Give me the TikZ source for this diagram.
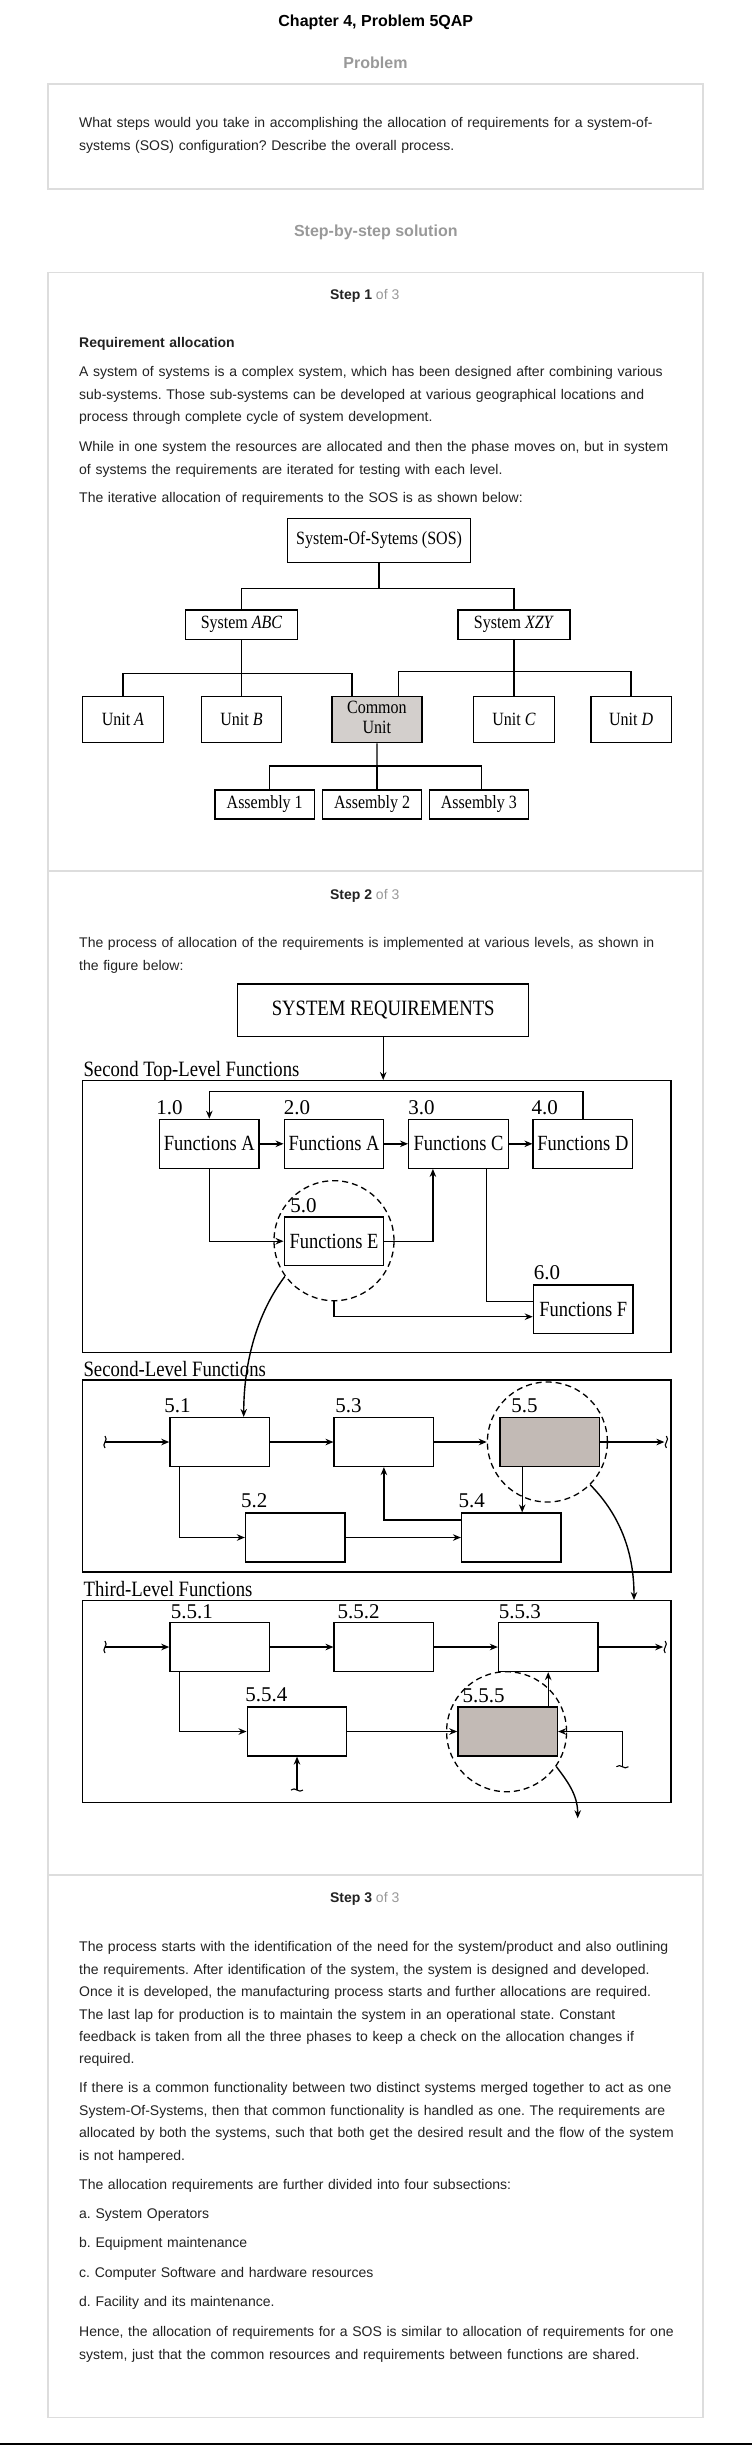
\documentclass[tikz,border=0pt]{standalone}
\usepackage{fontspec}
\setmainfont{Liberation Sans}
\newfontfamily\figfont{Liberation Serif}
\usepackage{graphicx}
\usetikzlibrary{arrows.meta,positioning}
\frenchspacing

\definecolor{headgray}{RGB}{153,153,153}
\definecolor{panelgray}{RGB}{221,221,221}
\definecolor{bodytext}{RGB}{34,34,34}
\definecolor{commonfill}{RGB}{211,207,204}
\definecolor{funcfill}{RGB}{194,186,181}

% figure lettering is a little taller than wide
\newcommand{\vs}[1]{\scalebox{1}[1.17]{#1}}

\tikzset{
  body/.style={font=\fontsize{14}{22.4}\selectfont, text=bodytext, anchor=base west,
    inner sep=0pt, align=left, text width=640pt},
  heading/.style={font=\fontsize{16}{19}\selectfont\bfseries, anchor=base, inner sep=0pt},
  stepname/.style={font=\fontsize{14}{17}\selectfont, text=bodytext, anchor=base, inner sep=0pt},
  panel/.style={draw=panelgray, line width=1.2pt},
  treebox/.style={draw, line width=1.3pt, inner sep=0pt, font=\figfont\fontsize{16}{16.4}\selectfont},
  funcbox/.style={draw, line width=1.4pt, inner sep=0pt, minimum width=99.5pt,
    minimum height=48.8pt, font=\figfont\fontsize{18.5}{20}\selectfont},
  levelframe/.style={draw, line width=1.4pt, inner sep=0pt, minimum width=588.5pt},
  levelname/.style={font=\figfont\fontsize{18.7}{20}\selectfont, anchor=base west, inner sep=0pt},
  num/.style={font=\figfont\fontsize{21}{22}\selectfont, anchor=base west, inner sep=0pt},
  ring/.style={draw, circle, dash pattern=on 6pt off 4pt, line width=1.3pt,
    minimum size=120pt, inner sep=0pt},
  link/.style={line width=1.3pt},
  flow/.style={line width=1.4pt, -{Stealth[length=8pt,width=6.5pt]}},
  vwave/.pic={\draw[line width=1.1pt] (0,-6) .. controls (4,-2) and (-4,2) .. (0,6);},
  hwave/.pic={\draw[line width=1.1pt] (-6,0) .. controls (-2,-4) and (2,4) .. (6,0);},
}

\begin{document}
\begin{tikzpicture}[x=1pt, y=-1pt]
\useasboundingbox (0,0) rectangle (752,2445);
\fill[white] (0,0) rectangle (752,2445);

% page headings and frames
\node[heading] (title) at (375.8,26.7) {Chapter 4, Problem 5QAP};
\node[heading, text=headgray] (probhead) at (375.5,68.7) {Problem};
\draw[panel] (48,84) rectangle (703,189);
\node[body] (probtext) at (79,127.8) {What steps would you take in accomplishing the allocation of requirements for a system-of-\\
systems (SOS) configuration? Describe the overall process.};
\node[heading, text=headgray] (solhead) at (375.8,236.4) {Step-by-step solution};
\draw[panel] (48,272.5) rectangle (703,2417.3);
\draw[panel] (48,871) -- (703,871);
\draw[panel] (48,1875) -- (703,1875);
\draw[line width=2pt] (0,2443.5) -- (752,2443.5);

% step 1
\node[stepname] (step1) at (364.7,299.3) {\textbf{Step 1} \textcolor{headgray}{of 3}};
\node[body] (reqhead) at (79,347.5) {\textbf{Requirement allocation}};
\node[body] (s1p1) at (79,376.8) {A system of systems is a complex system, which has been designed after combining various\\
sub-systems. Those sub-systems can be developed at various geographical locations and\\
process through complete cycle of system development.};
\node[body] (s1p2) at (79,451.8) {While in one system the resources are allocated and then the phase moves on, but in system\\
of systems the requirements are iterated for testing with each level.};
\node[body] (s1p3) at (79,502.8) {The iterative allocation of requirements to the SOS is as shown below:};

% SOS tree
\node[treebox, minimum width=183pt, minimum height=44pt] (sos) at (379.1,540.3) {\vs{System-Of-Sytems (SOS)}};
\node[treebox, minimum width=112pt, minimum height=29.3pt] (abc) at (241.5,624.7) {\vs{System \textit{ABC}}};
\node[treebox, minimum width=112pt, minimum height=29.3pt] (xzy) at (514,624.7) {\vs{System \textit{XZY}}};
\node[treebox, minimum width=80.5pt, minimum height=46pt] (ua) at (122.9,719.7) {\vs{Unit \textit{A}}};
\node[treebox, minimum width=80.5pt, minimum height=46pt] (ub) at (241.5,719.7) {\vs{Unit \textit{B}}};
\node[treebox, minimum width=90pt, minimum height=46pt, fill=commonfill] (cu) at (376.9,719.7)
  {\vs{\begin{tabular}{@{}c@{}}Common\\Unit\end{tabular}}};
\node[treebox, minimum width=80.5pt, minimum height=46pt] (uc) at (514,719.7) {\vs{Unit \textit{C}}};
\node[treebox, minimum width=80.5pt, minimum height=46pt] (ud) at (631.1,719.7) {\vs{Unit \textit{D}}};
\node[treebox, minimum width=99.5pt, minimum height=29pt] (a1) at (264.7,804.5) {\vs{Assembly 1}};
\node[treebox, minimum width=99.5pt, minimum height=29pt] (a2) at (372,804.5) {\vs{Assembly 2}};
\node[treebox, minimum width=99.5pt, minimum height=29pt] (a3) at (478.9,804.5) {\vs{Assembly 3}};

\coordinate (sosj) at (379.1,588.3);
\coordinate (abcj) at (241.5,673.3);
\coordinate (xzyj) at (514,671.7);
\coordinate (cuj) at (377,766);
\draw[link] (sos.south) -- (sosj);
\draw[link] (abc.north) |- (sosj) -| (xzy.north);
\draw[link] (abc.south) -- (abcj);
\draw[link] (ua.north) |- (abcj) -| ([xshift=-25pt]cu.north);
\draw[link] (abcj) -- (ub.north);
\draw[link] (xzy.south) -- (xzyj);
\draw[link] ([xshift=21.7pt]cu.north) |- (xzyj) -| (ud.north);
\draw[link] (xzyj) -- (uc.north);
\draw[link] (cu.south) -- (cuj);
\draw[link] ([xshift=4.7pt]a1.north) |- (cuj) -| ([xshift=2.6pt]a3.north);
\draw[link] (cuj) -- (cuj |- a2.north);

% step 2
\node[stepname] (step2) at (364.7,899.3) {\textbf{Step 2} \textcolor{headgray}{of 3}};
\node[body] (s2p1) at (79,947.8) {The process of allocation of the requirements is implemented at various levels, as shown in\\
the figure below:};

\node[treebox, minimum width=291pt, minimum height=52.7pt, font=\figfont\fontsize{18.7}{20}\selectfont]
  (sysreq) at (383.2,1010.3) {\vs{SYSTEM REQUIREMENTS}};

% top-level functions
\node[levelname] (lvltop) at (83.4,1076.5) {\vs{Second Top-Level Functions}};
\node[levelframe, minimum height=271.6pt] (topframe) at (376.75,1216.5) {};
\draw[flow] (sysreq.south) -- (sysreq.south |- topframe.north);

\node[funcbox] (fa) at (209.3,1143.8) {\vs{Functions A}};
\node[funcbox] (fa2) at (334,1143.8) {\vs{Functions A}};
\node[funcbox] (fc) at (458.5,1143.8) {\vs{Functions C}};
\node[funcbox] (fd) at (582.9,1143.8) {\vs{Functions D}};
\node[funcbox] (fe) at (334,1241.2) {\vs{Functions E}};
\node[funcbox, minimum height=48.3pt] (ff) at (583.2,1309.2) {\vs{Functions F}};
\node[num] (n10) at ([shift={(-2.7,-4)}]fa.north west) {1.0};
\node[num] (n20) at ([shift={(0,-4)}]fa2.north west) {2.0};
\node[num] (n30) at ([shift={(0,-4)}]fc.north west) {3.0};
\node[num] (n40) at ([shift={(-1,-4)}]fd.north west) {4.0};
\node[num] (n50) at ([shift={(6.6,-3.7)}]fe.north west) {5.0};
\node[num] (n60) at ([shift={(0.9,-5.3)}]ff.north west) {6.0};
\node[ring] (ring5) at (334,1240.7) {};

\draw[flow] (fa) -- (fa2);
\draw[flow] (fa2) -- (fc);
\draw[flow] (fc) -- (fd);
\draw[flow] (fd.north) -- ++(0,-27) -| (fa.north);
\draw[flow] (fa.south) |- (fe.west);
\draw[flow] (fe.east) -| ([xshift=-25.6pt]fc.south);
\draw[link] ([xshift=28.2pt]fc.south) |- ([yshift=8pt]ff.west);
\draw[flow] (ring5.south) |- ([yshift=-7.5pt]ff.west);

% second-level functions
\node[levelname] (lvlsec) at (83.4,1376) {\vs{Second-Level Functions}};
\node[levelframe, minimum height=192pt] (midframe) at (376.75,1476) {};
\node[funcbox] (s1) at (219.7,1442) {};
\node[funcbox] (s3) at (383.9,1442) {};
\node[funcbox, fill=funcfill] (s5) at (549.7,1442) {};
\node[funcbox] (s2) at (295.3,1537.5) {};
\node[funcbox] (s4) at (511.4,1537.5) {};
\node[num] (n51) at ([shift={(-5.1,-4.3)}]s1.north west) {5.1};
\node[num] (n53) at ([shift={(1.6,-4.3)}]s3.north west) {5.3};
\node[num] (n55) at ([shift={(11.8,-4.3)}]s5.north west) {5.5};
\node[num] (n52) at ([shift={(-4,-4.6)}]s2.north west) {5.2};
\node[num] (n54) at ([shift={(-2.5,-4.6)}]s4.north west) {5.4};
\node[ring] (ring55) at (547.4,1442) {};

\draw[flow] (ring5.216) .. controls (258,1312) and (243.8,1360) .. ([xshift=24pt]s1.north);

\coordinate (in2) at (105,1442);
\coordinate (out2) at (664.4,1442);
\pic at (in2) {vwave};
\pic at ([xshift=2pt]out2) {vwave};
\draw[flow] (in2) -- (s1);
\draw[flow] (s1) -- (s3);
\draw[flow] (s3) -- (ring55);
\draw[flow] (s5) -- (out2);
\draw[flow] ([xshift=-40pt]s1.south) |- (s2.west);
\draw[flow] (s2) -- (s4);
\draw[flow] ([yshift=17.5pt]s4.west) -| (s3.south);
\coordinate (s5a) at ([xshift=-27.5pt]s5.south);
\draw[flow] (s5a) -- (s5a |- s4.north);

% third-level functions
\node[levelname] (lvlthird) at (83.4,1596) {\vs{Third-Level Functions}};
\node[levelframe, minimum height=201.6pt] (botframe) at (376.75,1701.5) {};
\draw[flow] (ring55.-45) .. controls (615,1510) and (634,1545) .. ([xshift=257.25pt]botframe.north);

\node[funcbox] (t1) at (219.7,1647) {};
\node[funcbox] (t2) at (383.9,1647) {};
\node[funcbox] (t3) at (548.3,1647) {};
\node[funcbox] (t4) at (297,1731.5) {};
\node[funcbox, fill=funcfill] (t5) at (507.7,1731.5) {};
\node[num] (n551) at ([shift={(1.4,-3.2)}]t1.north west) {5.5.1};
\node[num] (n552) at ([shift={(4,-3.2)}]t2.north west) {5.5.2};
\node[num] (n553) at ([shift={(0.9,-3.2)}]t3.north west) {5.5.3};
\node[num] (n554) at ([shift={(-1.3,-4.5)}]t4.north west) {5.5.4};
\node[num] (n555) at ([shift={(5.2,-3.5)}]t5.north west) {5.5.5};
\node[ring] (ring555) at (506.6,1731.7) {};

\coordinate (in3) at (105,1647);
\coordinate (out3) at (663.2,1647);
\coordinate (w5) at (297,1790);
\coordinate (w6) at (622.4,1766.7);
\coordinate (c3end) at (577.7,1818.3);
\pic at (in3) {vwave};
\pic at ([xshift=2pt]out3) {vwave};
\pic at (w5) {hwave};
\pic at (w6) {hwave};
\draw[flow] (in3) -- (t1);
\draw[flow] (t1) -- (t2);
\draw[flow] (t2) -- (t3);
\draw[flow] (t3) -- (out3);
\draw[flow] ([xshift=-40pt]t1.south) |- (t4.west);
\draw[flow] (t4) -- (t5);
\coordinate (t5a) at ([xshift=40.5pt]t5.north);
\draw[flow] (t5a) -- (t5a |- t3.south);
\draw[flow] (w6) |- (t5.east);
\draw[flow] (w5) -- (t4.south);
\draw[flow] (ring555.-35) .. controls (568,1782) and (577.7,1795) .. (c3end);

% step 3
\node[stepname] (step3) at (364.7,1902.3) {\textbf{Step 3} \textcolor{headgray}{of 3}};
\node[body] (s3p1) at (79,1951.8) {The process starts with the identification of the need for the system/product and also outlining\\
the requirements. After identification of the system, the system is designed and developed.\\
Once it is developed, the manufacturing process starts and further allocations are required.\\
The last lap for production is to maintain the system in an operational state. Constant\\
feedback is taken from all the three phases to keep a check on the allocation changes if\\
required.};
\node[body] (s3p2) at (79,2092.8) {If there is a common functionality between two distinct systems merged together to act as one\\
System-Of-Systems, then that common functionality is handled as one. The requirements are\\
allocated by both the systems, such that both get the desired result and the flow of the system\\
is not hampered.};
\node[body] (s3p3) at (79,2189.8) {The allocation requirements are further divided into four subsections:};
\node[body] (itema) at (79,2218.8) {a. System Operators};
\node[body] (itemb) at (79,2247.8) {b. Equipment maintenance};
\node[body] (itemc) at (79,2277.8) {c. Computer Software and hardware resources};
\node[body] (itemd) at (79,2306.8) {d. Facility and its maintenance.};
\node[body] (s3p4) at (79,2336.8) {Hence, the allocation of requirements for a SOS is similar to allocation of requirements for one\\
system, just that the common resources and requirements between functions are shared.};
\end{tikzpicture}
\end{document}
